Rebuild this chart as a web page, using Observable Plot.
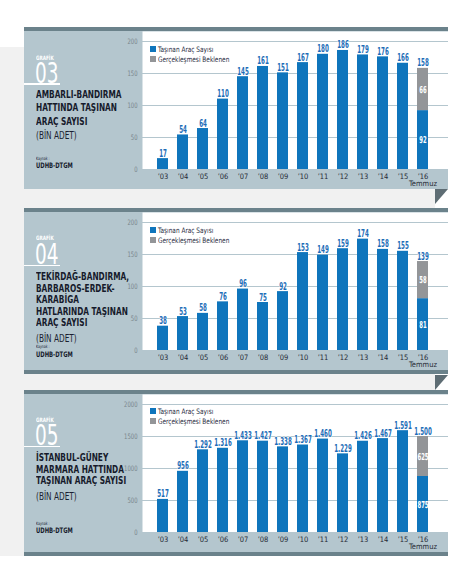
<!DOCTYPE html>
<html><head><meta charset="utf-8">
<script src="https://cdn.jsdelivr.net/npm/d3@7"></script>
<script src="https://cdn.jsdelivr.net/npm/@observablehq/plot@0.6"></script>
<style>
html,body{margin:0;padding:0;background:#fff;}
body{width:466px;height:564px;position:relative;overflow:hidden;font-family:"DejaVu Sans Condensed","Liberation Sans Narrow",sans-serif;}
.bg{position:absolute;left:0;top:47px;width:435px;height:509px;background:#f1f1f1;}
.panel{position:absolute;left:24px;width:424px;background:#b4c6ce;}
.bar{position:absolute;left:0;width:424px;height:4px;background:#6b828b;}
.fold{position:absolute;left:435px;width:13px;height:15px;background:#5e6d74;clip-path:polygon(0 0,100% 0,0 100%);}
.t{position:absolute;white-space:nowrap;line-height:0.77;transform:scaleX(0.78);transform-origin:0 0;}
.ttl{font-weight:bold;font-size:10.5px;color:#161a2b;}
.unit{font-size:10.5px;color:#1b1f31;}
.gr{font-weight:bold;font-size:6px;color:#fff;}
.num{font-size:28.5px;color:#fff;transform:scaleX(0.72);}
.src1{font-size:4.5px;color:#1b1f31;}
.src2{font-weight:bold;font-size:7.5px;color:#161a2b;}
.rule{position:absolute;left:0;width:36px;height:1.3px;background:#fff;}
.leg{position:absolute;left:126px;font-size:7.5px;color:#1f2a40;white-space:nowrap;}
.leg .row{display:flex;align-items:center;height:10px;}
.leg .sw{width:6px;height:6px;margin-right:2px;flex:none;}
.leg span{display:inline-block;transform:scaleX(0.86);transform-origin:0 50%;}
.chart{position:absolute;left:86px;}
</style>
</head><body>
<div class="bg"></div>
<script>
const years = ["’03","’04","’05","’06","’07","’08","’09","’10","’11","’12","’13","’14","’15","’16"];
const monthLabel = "Temmuz";
const seriesNames = ["Taşınan Araç Sayısı","Gerçekleşmesi Beklenen"];
const seriesColors = ["#0f75bc","#939598"];

const carried03 = [17,54,64,110,145,161,151,167,180,186,179,176,166,92];
const pending03 = [0,0,0,0,0,0,0,0,0,0,0,0,0,66];
const carried04 = [38,53,58,76,96,75,92,153,149,159,174,158,155,81];
const pending04 = [0,0,0,0,0,0,0,0,0,0,0,0,0,58];
const carried05 = [517,956,1292,1316,1433,1427,1338,1367,1460,1229,1426,1467,1591,875];
const pending05 = [0,0,0,0,0,0,0,0,0,0,0,0,0,625];

const ticks03 = [0,50,100,150,200];
const ticks04 = [0,50,100,150,200];
const ticks05 = [0,500,1000,1500,2000];

const title03 = ["AMBARLI-BANDIRMA","HATTINDA TAŞINAN","ARAÇ SAYISI"];
const title04 = ["TEKİRDAĞ-BANDIRMA,","BARBAROS-ERDEK-","KARABİGA","HATLARINDA TAŞINAN","ARAÇ SAYISI"];
const title05 = ["İSTANBUL-GÜNEY","MARMARA HATTINDA","TAŞINAN ARAÇ SAYISI"];
const numbers = ["03","04","05"];
const grafikLabel = "GRAFİK";
const unitLabel = "(BİN ADET)";
const sourceLabel = "Kaynak :";
const sourceName = "UDHB-DTGM";

const FONT = '"DejaVu Sans Condensed","Liberation Sans Narrow",sans-serif';
const fmt = v => String(v).replace(/\B(?=(\d{3})+(?!\d))/g, ".");

// Narrow each label horizontally around its own anchor point.
function squeeze(svg, label, sx) {
  svg.querySelectorAll(`g[aria-label="${label}"] text`).forEach(t => {
    let tr = t.getAttribute("transform") || "";
    const xa = t.getAttribute("x");
    if (xa !== null && !isNaN(+xa)) {
      t.removeAttribute("x");
      tr += ` translate(${+xa},0)`;
    }
    t.setAttribute("transform", tr + ` scale(${sx},1)`);
  });
}

function chart(carried, pending, ticks) {
  const rows = [];
  years.forEach((y, i) => {
    rows.push({year: y, s: seriesNames[0], v: carried[i]});
    if (pending[i]) rows.push({year: y, s: seriesNames[1], v: pending[i]});
  });
  const totals = years.map((y, i) => ({year: y, t: carried[i] + pending[i]}));
  const segs = years.flatMap((y, i) => pending[i] ? [
    {year: y, y: carried[i] / 2, t: carried[i]},
    {year: y, y: carried[i] + pending[i] / 2, t: pending[i]}
  ] : []);
  const top = ticks[ticks.length - 1] * 138 / 128;
  const svg = Plot.plot({
    width: 338, height: 158,
    marginLeft: 32, marginRight: 0, marginTop: 0, marginBottom: 20,
    style: {background: "transparent", fontFamily: FONT, overflow: "visible"},
    x: {domain: years, range: [32, 332.7], paddingInner: 0.472, paddingOuter: 0.456},
    y: {domain: [0, top]},
    color: {domain: seriesNames, range: seriesColors},
    marks: [
      Plot.frame({fill: "white", stroke: "none"}),
      Plot.ruleY(ticks, {stroke: "#b4c6ce", strokeWidth: 1}),
      Plot.barY(rows, {x: "year", y: "v", fill: "s"}),
      Plot.text(totals, {x: "year", y: "t", text: d => fmt(d.t), dy: -2, lineAnchor: "bottom",
        fill: "#1d6db7", stroke: "white", strokeWidth: 1.2, fontSize: 10, fontWeight: "bold"}),
      Plot.text(segs, {x: "year", y: "y", text: d => fmt(d.t), fill: "white", fontSize: 9.5, fontWeight: "bold"}),
      Plot.axisY({ticks, tickSize: 0, tickPadding: 5, tickFormat: d => String(d), fontSize: 7.5,
        color: "#78858b", label: null}),
      Plot.axisX({tickSize: 0, tickPadding: 4, fontSize: 7.5, color: "#262a35", label: null,
        lineHeight: 0.95, tickFormat: d => d === years[years.length - 1] ? d + "\n" + monthLabel : d})
    ]
  });
  squeeze(svg, "text", 0.62);
  squeeze(svg, "y-axis tick label", 0.78);
  return svg;
}

function text(parent, cls, str, left, capTop) {
  const el = document.createElement("div");
  el.className = "t " + cls;
  el.textContent = str;
  el.style.left = left + "px";
  el.style.top = capTop + "px";
  parent.appendChild(el);
  return el;
}

const layouts = [
  {top: 27, carried: carried03, pending: pending03, ticks: ticks03, title: title03, num: numbers[0],
   gr: 28.5, numTop: 36, rule: 56.3, lines: 63, lh: 13.3, unit: 104, k1: 130, k2: 136, botbar: false, fold: 189},
  {top: 208, carried: carried04, pending: pending04, ticks: ticks04, title: title04, num: numbers[1],
   gr: 28, numTop: 35.6, rule: 57, lines: 64, lh: 11.5, unit: 125.5, k1: 137, k2: 144, botbar: true, fold: 375},
  {top: 390, carried: carried05, pending: pending05, ticks: ticks05, title: title05, num: numbers[2],
   gr: 28, numTop: 35.3, rule: 56, lines: 63, lh: 11.6, unit: 102, k1: 131.7, k2: 137.7, botbar: true, fold: null}
];

layouts.forEach(L => {
  const p = document.createElement("div");
  p.className = "panel";
  p.style.top = L.top + "px";
  p.style.height = (4 + 158 + (L.botbar ? 4 : 0)) + "px";
  document.body.appendChild(p);
  const tb = document.createElement("div"); tb.className = "bar"; tb.style.top = "0px"; p.appendChild(tb);
  if (L.botbar) { const bb = document.createElement("div"); bb.className = "bar"; bb.style.top = "162px"; p.appendChild(bb); }

  const c = document.createElement("div"); c.className = "chart"; c.style.top = "4px";
  c.appendChild(chart(L.carried, L.pending, L.ticks));
  p.appendChild(c);

  text(p, "gr", grafikLabel, 12, L.gr);
  text(p, "num", L.num, 11, L.numTop);
  const r = document.createElement("div"); r.className = "rule"; r.style.top = L.rule + "px"; p.appendChild(r);
  L.title.forEach((s, i) => text(p, "ttl", s, 12, L.lines + i * L.lh));
  text(p, "unit", unitLabel, 12, L.unit);
  text(p, "src1", sourceLabel, 12, L.k1);
  text(p, "src2", sourceName, 12, L.k2);

  const lg = document.createElement("div"); lg.className = "leg"; lg.style.top = (L.top === 390 ? 16 : 17) + "px";
  seriesNames.forEach((n, i) => {
    const row = document.createElement("div"); row.className = "row";
    const sw = document.createElement("div"); sw.className = "sw"; sw.style.background = seriesColors[i];
    const tx = document.createElement("span"); tx.textContent = n;
    row.appendChild(sw); row.appendChild(tx); lg.appendChild(row);
  });
  p.appendChild(lg);

  if (L.fold !== null) {
    const f = document.createElement("div"); f.className = "fold"; f.style.top = L.fold + "px";
    document.body.appendChild(f);
  }
});
</script>
</body></html>
